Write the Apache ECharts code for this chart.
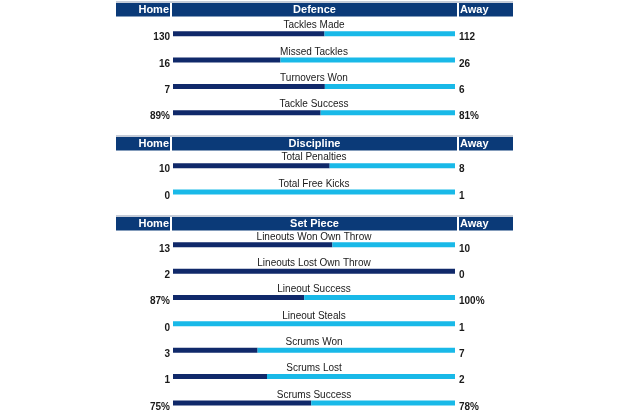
<!DOCTYPE html>
<html><head><meta charset="utf-8">
<script src="https://cdn.jsdelivr.net/npm/echarts@6/dist/echarts.min.js"></script>
<style>html,body{margin:0;padding:0;background:#fff}#c{width:630px;height:420px}</style>
</head><body><div id="c"></div>
<script>
var sectionTitles = ['Defence', 'Discipline', 'Set Piece'];
var defenceCats = ['Tackles Made', 'Missed Tackles', 'Turnovers Won', 'Tackle Success'];
var defenceHome = [130, 16, 7, 89];
var defenceAway = [112, 26, 6, 81];
var defenceUnit = ['', '', '', '%'];
var disciplineCats = ['Total Penalties', 'Total Free Kicks'];
var disciplineHome = [10, 0];
var disciplineAway = [8, 1];
var disciplineUnit = ['', ''];
var setPieceCats = ['Lineouts Won Own Throw', 'Lineouts Lost Own Throw', 'Lineout Success', 'Lineout Steals', 'Scrums Won', 'Scrums Lost', 'Scrums Success'];
var setPieceHome = [13, 2, 87, 0, 3, 1, 75];
var setPieceAway = [10, 0, 100, 1, 7, 2, 78];
var setPieceUnit = ['', '', '%', '', '', '', '%'];

var sections = [
  {cats: defenceCats, home: defenceHome, away: defenceAway, unit: defenceUnit},
  {cats: disciplineCats, home: disciplineHome, away: disciplineAway, unit: disciplineUnit},
  {cats: setPieceCats, home: setPieceHome, away: setPieceAway, unit: setPieceUnit}
];
// layout
var gridTops = [20.5, 152.5, 231.6];
var headerTops = [3, 137, 217];
var DARK = '#10296a', LIGHT = '#19b9e8', HEAD = '#0b3a78';
var FONT = '"Liberation Sans", Arial, sans-serif';

var grids = [], xAxes = [], yAxes = [], series = [], graphics = [];
sections.forEach(function (s, i) {
  var n = s.cats.length;
  grids.push({left: 173, width: 282, top: gridTops[i], height: n * 26.35});
  xAxes.push({gridIndex: i, type: 'value', min: 0, max: 1, show: false});
  yAxes.push({gridIndex: i, type: 'category', data: s.cats, inverse: true, show: false});
  var homeShare = s.home.map(function (h, k) { var t = h + s.away[k]; return t ? h / t : 0.5; });
  var awayShare = s.away.map(function (a, k) { var t = s.home[k] + a; return t ? a / t : 0.5; });
  var common = {type: 'bar', xAxisIndex: i, yAxisIndex: i, barWidth: 5, barGap: '-100%', silent: true, animation: false};
  series.push(Object.assign({}, common, {stack: 's' + i, data: homeShare, itemStyle: {color: DARK}}));
  series.push(Object.assign({}, common, {stack: 's' + i, data: awayShare, itemStyle: {color: LIGHT}}));
  var full = s.cats.map(function () { return 1; });
  series.push(Object.assign({}, common, {data: full, itemStyle: {color: 'rgba(0,0,0,0)'},
    label: {show: true, position: 'top', distance: 0.5, color: '#1a1a1a', fontFamily: FONT, fontSize: 10,
      formatter: function (p) { return s.cats[p.dataIndex]; }}}));
  series.push(Object.assign({}, common, {data: full, itemStyle: {color: 'rgba(0,0,0,0)'},
    label: {show: true, position: 'left', distance: 3, offset: [0, 4], color: '#1a1a1a', fontFamily: FONT, fontSize: 10, fontWeight: 'bold',
      formatter: function (p) { return s.home[p.dataIndex] + s.unit[p.dataIndex]; }}}));
  series.push(Object.assign({}, common, {data: full, itemStyle: {color: 'rgba(0,0,0,0)'},
    label: {show: true, position: 'right', distance: 4, offset: [0, 4], color: '#1a1a1a', fontFamily: FONT, fontSize: 10, fontWeight: 'bold',
      formatter: function (p) { return s.away[p.dataIndex] + s.unit[p.dataIndex]; }}}));

  var y = headerTops[i];
  graphics.push({type: 'rect', shape: {x: 116, y: y - 2, width: 397, height: 2}, style: {fill: '#c5ccd8'}, silent: true});
  graphics.push({type: 'rect', shape: {x: 116, y: y, width: 54, height: 13.5}, style: {fill: HEAD}, silent: true});
  graphics.push({type: 'rect', shape: {x: 172, y: y, width: 285, height: 13.5}, style: {fill: HEAD}, silent: true});
  graphics.push({type: 'rect', shape: {x: 459, y: y, width: 54, height: 13.5}, style: {fill: HEAD}, silent: true});
  graphics.push({type: 'text', x: 169, y: y + 7, style: {text: 'Home', fill: '#fff', font: 'bold 11px ' + FONT, textAlign: 'right', textVerticalAlign: 'middle'}, silent: true});
  graphics.push({type: 'text', x: 314.5, y: y + 7, style: {text: sectionTitles[i], fill: '#fff', font: 'bold 11px ' + FONT, textAlign: 'center', textVerticalAlign: 'middle'}, silent: true});
  graphics.push({type: 'text', x: 460, y: y + 7, style: {text: 'Away', fill: '#fff', font: 'bold 11px ' + FONT, textAlign: 'left', textVerticalAlign: 'middle'}, silent: true});
});

var chart = echarts.init(document.getElementById('c'), null, {renderer: 'canvas'});
chart.setOption({
  animation: false,
  grid: grids, xAxis: xAxes, yAxis: yAxes, series: series, graphic: graphics
});
</script></body></html>
